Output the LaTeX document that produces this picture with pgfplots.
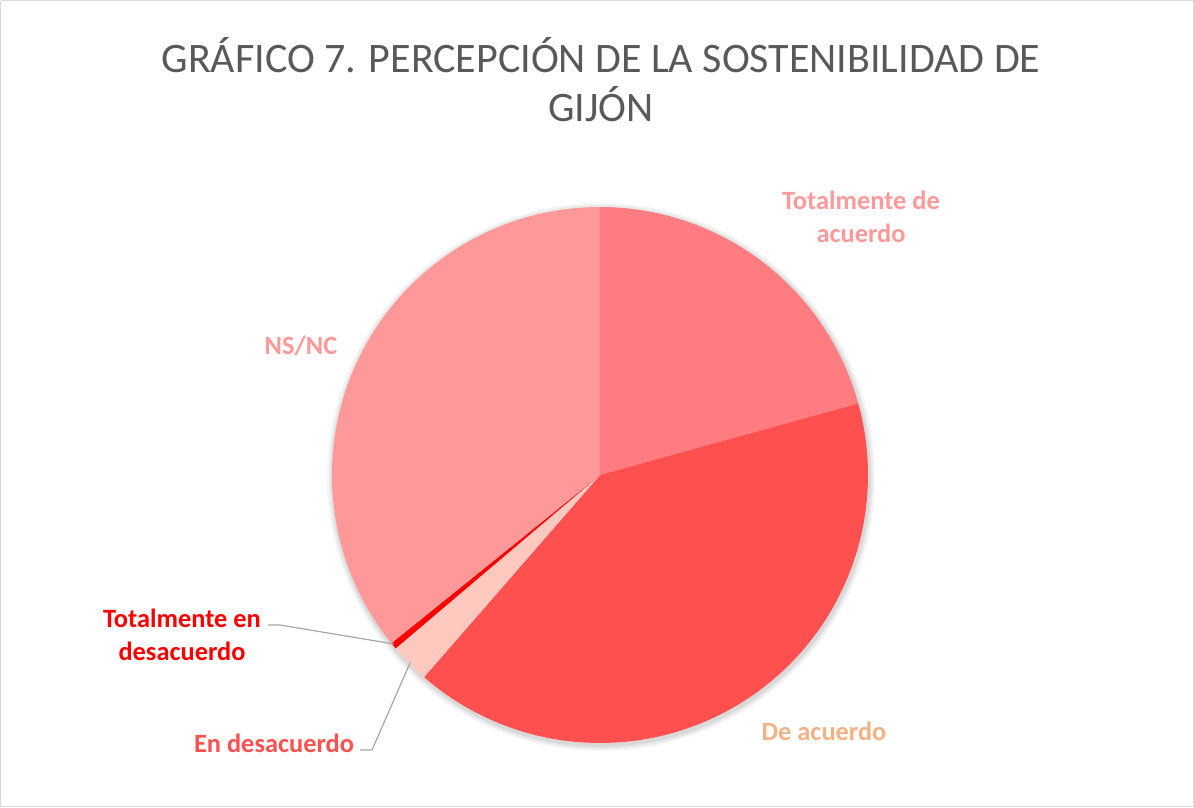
\documentclass[border=0pt]{standalone}
\usepackage{pgfplots}
\pgfplotsset{compat=1.18}
\usepackage{fontspec}
\setmainfont{Carlito}
\definecolor{cTDA}{HTML}{FF7C80}
\definecolor{cDA}{HTML}{FF5050}
\definecolor{cED}{HTML}{FFC9C0}
\definecolor{cTED}{HTML}{FF0000}
\definecolor{cNS}{HTML}{FF9999}
\definecolor{lTDA}{HTML}{FF9999}
\definecolor{lDA}{HTML}{F4B183}
\definecolor{titlegray}{HTML}{595959}
\definecolor{leader}{HTML}{A6A6A6}
\definecolor{frame}{HTML}{D9D9D9}
% percentages
\def\vTDA{20.7}
\def\vDA{40.7}
\def\vED{2.4}
\def\vTED{0.4}
\def\vNS{35.8}
\pgfmathsetmacro\aA{0}
\pgfmathsetmacro\aB{\aA+3.6*\vTDA}
\pgfmathsetmacro\aC{\aB+3.6*\vDA}
\pgfmathsetmacro\aD{\aC+3.6*\vED}
\pgfmathsetmacro\aE{\aD+3.6*\vTED}
\pgfmathsetmacro\aF{\aE+3.6*\vNS}
\begin{document}
\begin{tikzpicture}
\begin{axis}[scale only axis, width=1194pt, height=807pt,
  xmin=0, xmax=1194, ymin=0, ymax=807, y dir=reverse,
  hide axis, clip=false]
\addplot[draw=frame, line width=1pt] coordinates {(0.5,0.5) (1193.5,0.5) (1193.5,806.5) (0.5,806.5) (0.5,0.5)};
% soft shadow
\foreach \k/\o in {6/0.04,4/0.05,2/0.07}{
  \edef\tmp{\noexpand\fill[black, opacity=\o] (axis cs:601,477) circle[radius=268+\k];}\tmp
}
\addplot[fill=cTDA, draw=none, domain=\aA:\aB, samples=80, variable=\t] ({600+268*sin(\t)},{475-268*cos(\t)}) -- (600,475) -- cycle;
\addplot[fill=cDA, draw=none, domain=\aB:\aC, samples=120, variable=\t] ({600+268*sin(\t)},{475-268*cos(\t)}) -- (600,475) -- cycle;
\addplot[fill=cED, draw=none, domain=\aC:\aD, samples=10, variable=\t] ({600+268*sin(\t)},{475-268*cos(\t)}) -- (600,475) -- cycle;
\addplot[fill=cTED, draw=none, domain=\aD:\aE, samples=5, variable=\t] ({600+268*sin(\t)},{475-268*cos(\t)}) -- (600,475) -- cycle;
\addplot[fill=cNS, draw=none, domain=\aE:\aF, samples=120, variable=\t] ({600+268*sin(\t)},{475-268*cos(\t)}) -- (600,475) -- cycle;
% leader lines
\addplot[leader, line width=1.2pt] coordinates {(268,625) (280,625) (394,644)};
\addplot[leader, line width=1.2pt] coordinates {(360,750) (372,750) (410,663)};
% title
\node[anchor=base, text=titlegray, font=\fontsize{42}{50}\selectfont] at (axis cs:601,72) {GRÁFICO 7. PERCEPCIÓN DE LA SOSTENIBILIDAD DE};
\node[anchor=base, text=titlegray, font=\fontsize{42}{50}\selectfont] at (axis cs:601,121) {GIJÓN};
% labels
\tikzset{lab/.style={anchor=base, font=\bfseries\fontsize{26.4}{32}\selectfont, inner sep=0pt}}
\node[lab, text=lTDA] at (axis cs:861,209) {Totalmente de};
\node[lab, text=lTDA] at (axis cs:861,242) {acuerdo};
\node[lab, text=lDA] at (axis cs:824,740) {De acuerdo};
\node[lab, text=cNS] at (axis cs:301,354) {NS/NC};
\node[lab, text=cTED] at (axis cs:182,627) {Totalmente en};
\node[lab, text=cTED] at (axis cs:182,660) {desacuerdo};
\node[lab, text=cDA] at (axis cs:274,752) {En desacuerdo};
\end{axis}
\end{tikzpicture}
\end{document}
